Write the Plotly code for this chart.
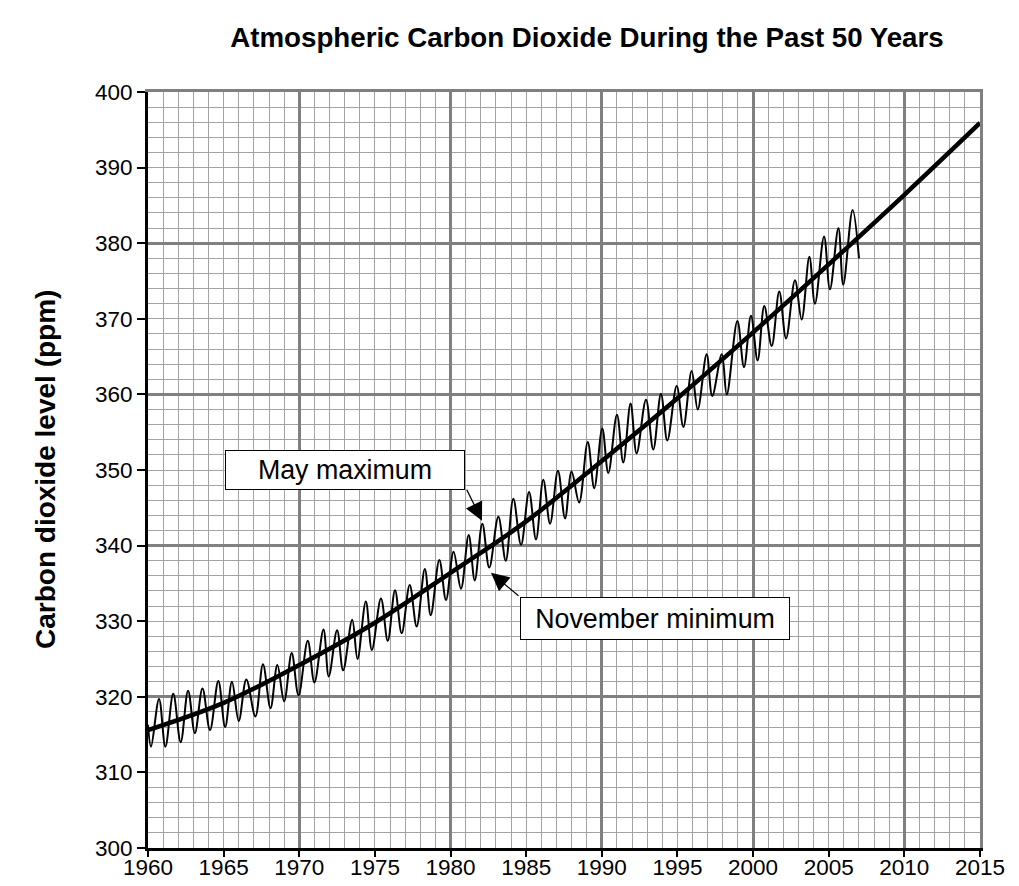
import plotly.graph_objects as go

# ---- data ----
trend_years = [1960, 1965, 1970, 1975, 1980, 1985, 1990, 1995, 2000, 2005, 2010, 2015]
trend_ppm = [315.6, 319.2, 324.2, 329.8, 336.4, 343.2, 351.2, 359.5, 368.2, 377.2, 386.4, 395.9]

# seasonal maxima (May) — time in decimal years, CO2 in ppm
max_time = [1960.73, 1961.67, 1962.65, 1963.6, 1964.65, 1965.55, 1966.5, 1967.6, 1968.55, 1969.5,
            1970.56, 1971.6, 1972.5, 1973.5, 1974.4, 1975.4, 1976.33, 1977.3, 1978.3, 1979.26,
            1980.2, 1981.2, 1982.1, 1983.16, 1984.15, 1985.19, 1986.13, 1987.1, 1988.0, 1989.07,
            1990.03, 1991.0, 1991.9, 1992.92, 1993.91, 1994.95, 1995.94, 1996.93, 1997.93, 1998.96,
            1999.86, 2000.74, 2001.73, 2002.77, 2003.72, 2004.69, 2005.64, 2006.58]
max_ppm = [319.7, 320.4, 320.8, 321.1, 322.1, 322.0, 322.3, 324.3, 324.2, 325.8,
           327.4, 328.9, 328.8, 330.2, 332.6, 333.0, 334.1, 334.8, 336.9, 338.1,
           339.2, 341.4, 342.9, 343.8, 346.2, 347.1, 348.7, 349.9, 349.8, 353.7,
           355.5, 357.3, 358.8, 359.3, 360.1, 361.1, 363.1, 365.3, 365.3, 369.7,
           370.4, 371.7, 373.6, 375.1, 378.2, 380.9, 382.0, 384.4]

# seasonal minima (November)
min_time = [1960.2, 1961.15, 1962.16, 1963.1, 1964.1, 1965.1, 1966.0, 1967.1, 1968.1, 1969.0,
            1969.95, 1971.0, 1971.95, 1972.9, 1973.85, 1974.8, 1975.85, 1976.77, 1977.76, 1978.69,
            1979.7, 1980.69, 1981.6, 1982.56, 1983.65, 1984.66, 1985.65, 1986.58, 1987.57, 1988.5,
            1989.5, 1990.43, 1991.42, 1992.3, 1993.4, 1994.33, 1995.39, 1996.34, 1997.3, 1998.26,
            1999.4, 2000.3, 2001.23, 2002.18, 2003.21, 2004.09, 2005.08, 2005.96]
min_ppm = [313.4, 313.4, 314.0, 315.2, 315.6, 316.0, 316.8, 317.4, 318.5, 319.4,
           320.2, 321.9, 322.7, 323.5, 325.0, 326.2, 327.4, 328.4, 329.3, 330.8,
           332.8, 334.3, 335.4, 337.1, 338.0, 340.1, 340.8, 342.9, 343.6, 345.7,
           347.6, 349.6, 351.0, 352.2, 352.7, 353.9, 355.7, 358.0, 359.8, 360.0,
           363.6, 364.5, 366.4, 367.4, 369.9, 372.0, 373.9, 374.5]

start_point = (1960.0, 316.3)
end_point = (2007.0, 378.0)

x_ticks = list(range(1960, 2016, 5))
y_ticks = list(range(300, 401, 10))

# ---- build the oscillating series ----
pts = [start_point] + list(zip(max_time, max_ppm)) + list(zip(min_time, min_ppm)) + [end_point]
pts.sort(key=lambda p: p[0])
seas_x = [p[0] for p in pts]
seas_y = [p[1] for p in pts]

FONT = "Liberation Sans, Arial, sans-serif"
MINOR = "#a3a3a3"
MAJOR = "#808080"

W, H = 1019, 886
L, R, T, B = 148, 39, 92, 38

fig = go.Figure()
fig.add_trace(go.Scatter(x=seas_x, y=seas_y, mode="lines",
                         line=dict(color="black", width=2, shape="spline", smoothing=1.0),
                         hoverinfo="skip", showlegend=False))
fig.add_trace(go.Scatter(x=trend_years, y=trend_ppm, mode="lines",
                         line=dict(color="black", width=4.5, shape="spline", smoothing=1.0),
                         hoverinfo="skip", showlegend=False))
# invisible trace to activate the overlay axes (major grid)
fig.add_trace(go.Scatter(x=[x_ticks[0]], y=[y_ticks[0]], xaxis="x2", yaxis="y2",
                         mode="markers", marker=dict(opacity=0), hoverinfo="skip", showlegend=False))

fig.update_layout(
    width=W, height=H,
    margin=dict(l=L, r=R, t=T, b=B, autoexpand=False),
    paper_bgcolor="white", plot_bgcolor="white",
    font=dict(family=FONT, color="black", size=22),
    title=dict(text="<b>Atmospheric Carbon Dioxide During the Past 50 Years</b>",
               x=587 / W, xref="container", xanchor="center",
               y=1 - 37 / H, yref="container", yanchor="middle",
               font=dict(family=FONT, size=27.7, color="black")),
    xaxis=dict(range=[1960, 2015], tickvals=x_ticks, ticktext=[str(v) for v in x_ticks],
               showgrid=False, zeroline=False, automargin=False,
               showline=True, linecolor="black", linewidth=3,
               ticks="outside", ticklen=6, tickwidth=2, tickcolor="black",
               ticklabelstandoff=-9,
               tickfont=dict(size=22.5),
               minor=dict(dtick=1, tick0=1960, showgrid=True, gridcolor=MINOR, gridwidth=1.3, ticks="")),
    yaxis=dict(range=[300, 400], tickvals=y_ticks, ticktext=[str(v) for v in y_ticks],
               showgrid=False, zeroline=False, automargin=False,
               showline=True, linecolor="black", linewidth=3,
               ticks="outside", ticklen=8, tickwidth=2, tickcolor="black",
               tickfont=dict(size=22.5),
               minor=dict(dtick=2, tick0=300, showgrid=True, gridcolor=MINOR, gridwidth=1.3, ticks="")),
    xaxis2=dict(range=[1960, 2015], overlaying="x", side="top", dtick=10, tick0=1960,
                showgrid=True, gridcolor=MAJOR, gridwidth=2.5, showticklabels=False, ticks="",
                zeroline=False, automargin=False, showline=True, linecolor=MAJOR, linewidth=2.5),
    yaxis2=dict(range=[300, 400], overlaying="y", side="right", dtick=20, tick0=300,
                showgrid=True, gridcolor=MAJOR, gridwidth=2.5, showticklabels=False, ticks="",
                zeroline=False, automargin=False, showline=True, linecolor=MAJOR, linewidth=2.5),
)

# y-axis title
fig.add_annotation(text="<b>Carbon dioxide level (ppm)</b>", xref="paper", yref="paper",
                   x=(45 - L) / (W - L - R), y=0.5, xanchor="center", yanchor="middle",
                   textangle=-90, showarrow=False, font=dict(size=28, family=FONT))

# labelled boxes
fig.add_annotation(text="May maximum", xref="x", yref="y", x=1973.02, y=350.0,
                   showarrow=False, width=236, height=36, bgcolor="white",
                   bordercolor="black", borderwidth=1, font=dict(size=26.8, family=FONT))
fig.add_annotation(text="November minimum", xref="x", yref="y", x=1993.52, y=330.36,
                   showarrow=False, width=266, height=39, bgcolor="white",
                   bordercolor="black", borderwidth=1, font=dict(size=26.8, family=FONT))
# arrows
fig.add_annotation(text="", xref="x", yref="y", axref="x", ayref="y",
                   x=1982.08, y=343.3, ax=1981.02, ay=347.6,
                   showarrow=True, arrowhead=2, arrowsize=3.0, arrowwidth=1.2, arrowcolor="black")
fig.add_annotation(text="", xref="x", yref="y", axref="x", ayref="y",
                   x=1982.67, y=336.4, ax=1984.59, ay=333.2,
                   showarrow=True, arrowhead=2, arrowsize=3.0, arrowwidth=1.2, arrowcolor="black")

fig.write_html("out.html", config={"displayModeBar": False},
               post_script="document.body.style.margin='0';document.body.style.overflow='hidden';")
